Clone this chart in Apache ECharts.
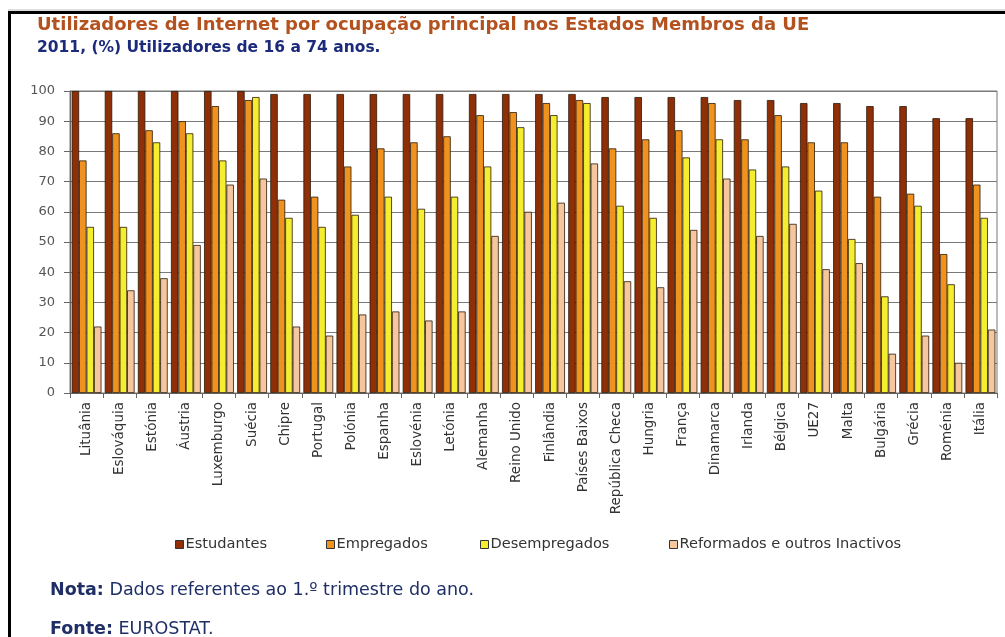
<!DOCTYPE html>
<html>
<head>
<meta charset="utf-8">
<script src="https://cdn.jsdelivr.net/npm/echarts@6/dist/echarts.min.js"></script>
<style>
html,body{margin:0;padding:0;background:#fff;}
#chart{width:1005px;height:637px;}
</style>
</head>
<body>
<div id="chart"></div>
<script>
var categories = ['Lituânia','Eslováquia','Estónia','Áustria','Luxemburgo','Suécia','Chipre','Portugal','Polónia','Espanha','Eslovénia','Letónia','Alemanha','Reino Unido','Finlândia','Países Baixos','República Checa','Hungria','França','Dinamarca','Irlanda','Bélgica','UE27','Malta','Bulgária','Grécia','Roménia','Itália'];
var estudantes  = [100,100,100,100,100,100,99,99,99,99,99,99,99,99,99,99,98,98,98,98,97,97,96,96,95,95,91,91];
var empregados  = [77,86,87,90,95,97,64,65,75,81,83,85,92,93,96,97,81,84,87,96,84,92,83,83,65,66,46,69];
var desempregados = [55,55,83,86,77,98,58,55,59,65,61,65,75,88,92,96,62,58,78,84,74,75,67,51,32,62,36,58];
var reformados  = [22,34,38,49,69,71,22,19,26,27,24,27,52,60,63,76,37,35,54,71,52,56,41,43,13,19,10,21];
var yTicks = [0,10,20,30,40,50,60,70,80,90,100];
var seriesNames = ['Estudantes','Empregados','Desempregados','Reformados e outros Inactivos'];
var colors = ['#8E2F08','#F0931E','#F4EE2E','#F6C79E'];

var FONT = 'DejaVu Sans, Liberation Sans, Arial, sans-serif';
var chart = echarts.init(document.getElementById('chart'), null, {renderer:'canvas'});
var values = [estudantes, empregados, desempregados, reformados];
var series = values.map(function(v, i){
  return {
    name: seriesNames[i], type: 'bar', data: v,
    barGap: '0%', barCategoryGap: '10%',
    itemStyle: {color: colors[i], borderColor: '#2a1a0a', borderWidth: 0.8},
    emphasis: {disabled: true}
  };
});
var legendLefts = [175, 326, 480, 669];
var legends = seriesNames.map(function(n, i){
  return {
    data: [n], left: legendLefts[i], top: 537, itemWidth: 8, itemHeight: 8, itemGap: 0, padding: 0,
    icon: 'rect',
    textStyle: {fontFamily: FONT, fontSize: 14.6, color: '#333', padding: [0,0,0,-3]},
    itemStyle: {borderColor: '#333', borderWidth: 1}
  };
});
var noteStyle = {fontFamily: FONT, fontSize: 17.5, fontWeight: 'normal', color: '#1F2F66',
  rich: {b: {fontWeight: 'bold', fontSize: 17.5, color: '#1F2F66', fontFamily: FONT}}};
var option = {
  animation: false,
  backgroundColor: '#fff',
  title: [
    {text: 'Utilizadores de Internet por ocupação principal nos Estados Membros da UE', left: 37, top: 16, padding: 0,
     textStyle: {fontFamily: FONT, fontSize: 18, fontWeight: 'bold', color: '#B4521F'}},
    {text: '2011, (%) Utilizadores de 16 a 74 anos.', left: 37, top: 40, padding: 0,
     textStyle: {fontFamily: FONT, fontSize: 15.5, fontWeight: 'bold', color: '#1B2A7A'}},
    {text: '{b|Nota:} Dados referentes ao 1.º trimestre do ano.', left: 50, top: 581, padding: 0, textStyle: noteStyle},
    {text: '{b|Fonte:} EUROSTAT.', left: 50, top: 620, padding: 0, textStyle: noteStyle}
  ],
  legend: legends,
  grid: {left: 70, right: 8, top: 91, bottom: 244, show: true, borderColor: '#777', borderWidth: 1, containLabel: false},
  xAxis: {
    type: 'category', data: categories,
    axisLine: {lineStyle: {color: '#666'}},
    axisTick: {show: true, length: 5, lineStyle: {color: '#666'}},
    axisLabel: {rotate: 90, fontFamily: FONT, fontSize: 13.5, color: '#333', margin: 9, interval: 0}
  },
  yAxis: {
    type: 'value', min: 0, max: 100, interval: 10,
    axisLine: {show: true, lineStyle: {color: '#666'}},
    axisTick: {show: true, length: 6, lineStyle: {color: '#666'}},
    axisLabel: {fontFamily: FONT, fontSize: 13, color: '#555', margin: 15,
      formatter: function(v){ return yTicks.indexOf(v) >= 0 ? String(v) : ''; }},
    splitLine: {lineStyle: {color: '#7a7a7a', width: 1}}
  },
  series: series,
  graphic: [
    {type: 'line', shape: {x1: 8, y1: 10, x2: 1005, y2: 10}, style: {stroke: '#bbb', lineWidth: 1}, silent: true},
    {type: 'line', shape: {x1: 8, y1: 12.5, x2: 1005, y2: 12.5}, style: {stroke: '#000', lineWidth: 3}, silent: true},
    {type: 'line', shape: {x1: 9.5, y1: 11, x2: 9.5, y2: 637}, style: {stroke: '#000', lineWidth: 3}, silent: true}
  ]
};
chart.setOption(option);
</script>
</body>
</html>
